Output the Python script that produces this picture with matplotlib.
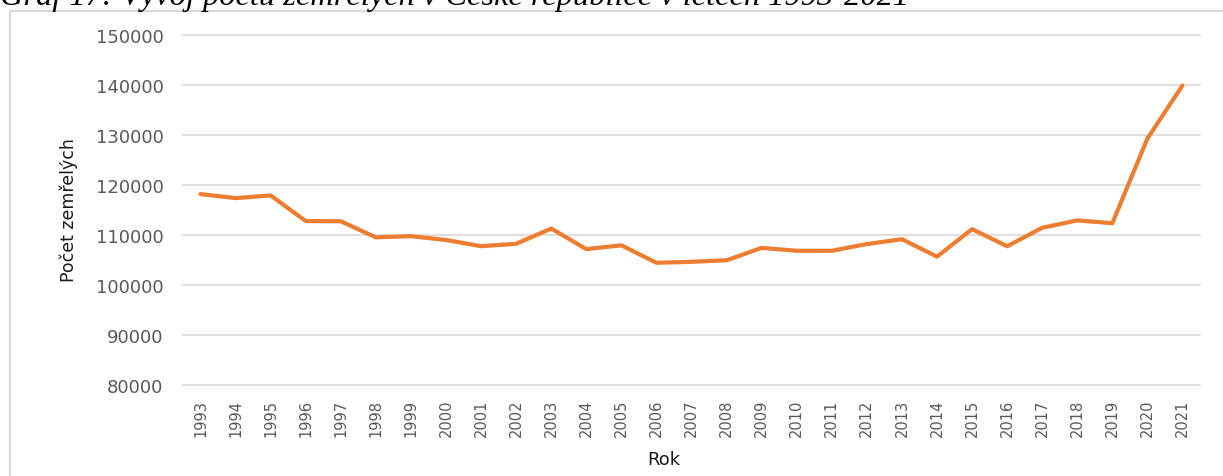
import matplotlib
matplotlib.use("Agg")
import matplotlib.pyplot as plt
from matplotlib.lines import Line2D

# data: pocet zemrelych v CR
years = [str(y) for y in range(1993, 2022)]
deaths = [118185, 117373, 117913, 112782, 112744, 109527, 109768, 109001,
          107755, 108243, 111288, 107177, 107938, 104441, 104636, 104948,
          107421, 106844, 106848, 108189, 109160, 105665, 111173, 107750,
          111443, 112920, 112362, 129289, 139891]
yticks = list(range(80000, 150001, 10000))

title = "Graf 17: Vývoj počtu zemřelých v České republice v letech 1993-2021"

W, H = 1223, 477
fig = plt.figure(figsize=(W / 100, H / 100), dpi=100)
fig.patch.set_facecolor("white")

# plot area in pixels
left, right, top, bottom = 183, 1200, 36, 386
ax = fig.add_axes([left / W, 1 - bottom / H, (right - left) / W, (bottom - top) / H])

x = list(range(len(years)))
ax.plot(x, deaths, color="#ED7D31", lw=3, solid_joinstyle="round", solid_capstyle="round", zorder=3)

ax.set_xlim(-0.5, len(years) - 0.5)
ax.set_ylim(80000, 150000)
ax.set_yticks(yticks)
ax.set_yticklabels([str(v) for v in yticks])
ax.set_xticks(x)
ax.set_xticklabels(years, rotation=90)
ax.grid(axis="y", color="#D9D9D9", lw=1.2, zorder=0)
for gl in ax.get_ygridlines():
    gl.set_clip_on(False)
ax.set_axisbelow(True)
for s in ax.spines.values():
    s.set_visible(False)
ax.tick_params(axis="y", length=0, pad=14, labelsize=13, labelcolor="#595959")
ax.tick_params(axis="x", length=0, pad=10, labelsize=10.5, labelcolor="#595959")

# axis titles
fig.text(69 / W, 1 - 210 / H, "Počet zemřelých", rotation=90, ha="center", va="center",
         fontsize=12.5, color="#1a1a1a")
fig.text(664 / W, 1 - 460 / H, "Rok", ha="center", va="center", fontsize=13, color="#1a1a1a")

# caption cut off at the top
fig.text(0, 1 - 5 / H, title, ha="left", va="baseline", fontsize=23.4,
         family="Liberation Serif", style="italic", color="black")

# chart frame
fig.add_artist(Line2D([10 / W, 10 / W], [0, 1 - 12 / H], color="#D9D9D9", lw=1.6,
                      transform=fig.transFigure))
fig.add_artist(Line2D([10 / W, 1], [1 - 12 / H, 1 - 12 / H], color="#D9D9D9", lw=1.6,
                      transform=fig.transFigure))

fig.savefig("out.png", dpi=100)
